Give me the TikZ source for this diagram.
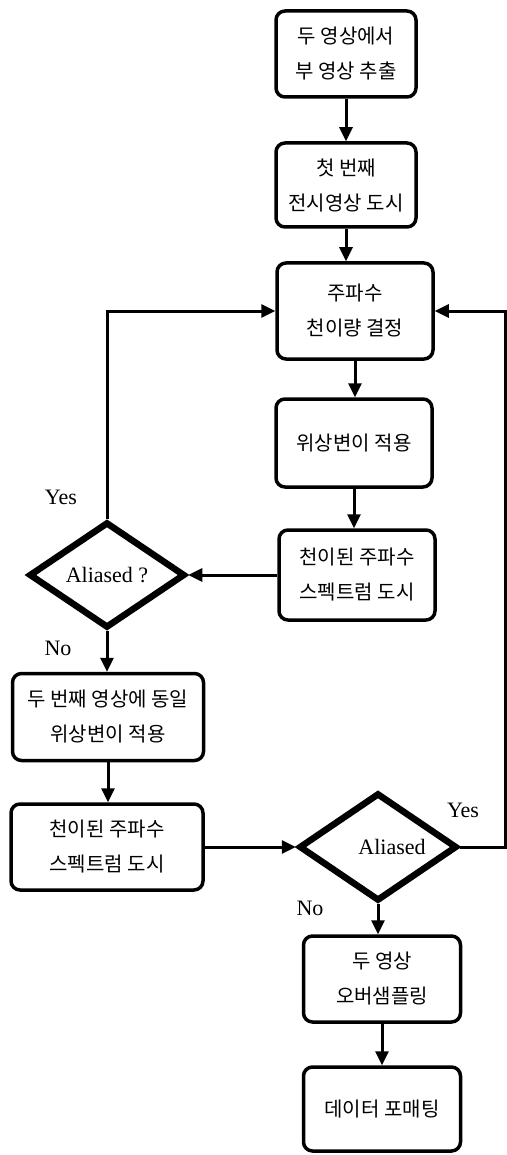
\documentclass[tikz,border=0pt]{standalone}
\usepackage{fontspec}
\setmainfont{Liberation Serif}
\newfontfamily\kr{Noto Sans CJK KR}
\usetikzlibrary{shapes.geometric,arrows.meta}
\begin{document}
\begin{tikzpicture}[x=1pt,y=-1pt,
  box/.style={draw, line width=3.5pt, rounded corners=9pt, align=center,
    font=\kr\fontsize{20}{35}\selectfont, inner sep=0pt},
  dia/.style={draw, diamond, aspect=1.5, line width=6.5pt, inner sep=0pt,
    font=\fontsize{22}{26}\selectfont},
  arr/.style={line width=3pt, -{Triangle[length=14pt,width=13pt]}},
  lbl/.style={font=\fontsize{22}{26}\selectfont}]
\useasboundingbox (0,0) rectangle (506,1155);
\node[box, minimum width=140pt, minimum height=86pt] (b1) at (346,54) {두 영상에서\\부 영상 추출};
\node[box, minimum width=140pt, minimum height=84pt] (b2) at (346,185) {첫 번째\\전시영상 도시};
\node[box, minimum width=156pt, minimum height=96pt] (b3) at (355,311) {주파수\\천이량 결정};
\node[box, minimum width=156pt, minimum height=88pt] (b4) at (354,443) {위상변이 적용};
\node[box, minimum width=156pt, minimum height=90pt] (b5) at (357,575) {천이된 주파수\\스펙트럼 도시};
\node[dia, minimum width=156pt, minimum height=106pt] (d1) at (107,575) {Aliased ?};
\node[box, minimum width=191pt, minimum height=87pt] (b6) at (108,717) {두 번째 영상에 동일\\위상변이 적용};
\node[box, minimum width=192pt, minimum height=86pt] (b7) at (107,847) {천이된 주파수\\스펙트럼 도시};
\node[dia, minimum width=158pt, minimum height=108pt] (d2) at (378,847) {\hspace*{28pt}Aliased};
\node[box, minimum width=157pt, minimum height=86pt] (b8) at (382,979) {두 영상\\오버샘플링};
\node[box, minimum width=157pt, minimum height=84pt] (b9) at (382,1109) {데이터 포매팅};
\coordinate (r) at (505,847);
\node[lbl] (yes1) at (61,497) {Yes};
\node[lbl] (no1) at (58,648) {No};
\node[lbl] (yes2) at (463,810) {Yes};
\node[lbl] (no2) at (310,908) {No};
\draw[arr] (b1.south) -- (b1.south |- b2.north);
\draw[arr] (b2.south) -- (b2.south |- b3.north);
\draw[arr] (b3.south) -- (b3.south |- b4.north);
\draw[arr] (b4.south) -- (b4.south |- b5.north);
\draw[arr] (b5.west) -- (d1.east);
\draw[arr] (d1.north) |- (b3.west);
\draw[arr] (d1.south) -- (d1.south |- b6.north);
\draw[arr] (b6.south) -- (b6.south |- b7.north);
\draw[arr] (b7.east) -- (d2.west);
\draw[arr] (d2.east) -- (r) |- (b3.east);
\draw[arr] (d2.south) -- (d2.south |- b8.north);
\draw[arr] (b8.south) -- (b8.south |- b9.north);
\end{tikzpicture}
\end{document}
